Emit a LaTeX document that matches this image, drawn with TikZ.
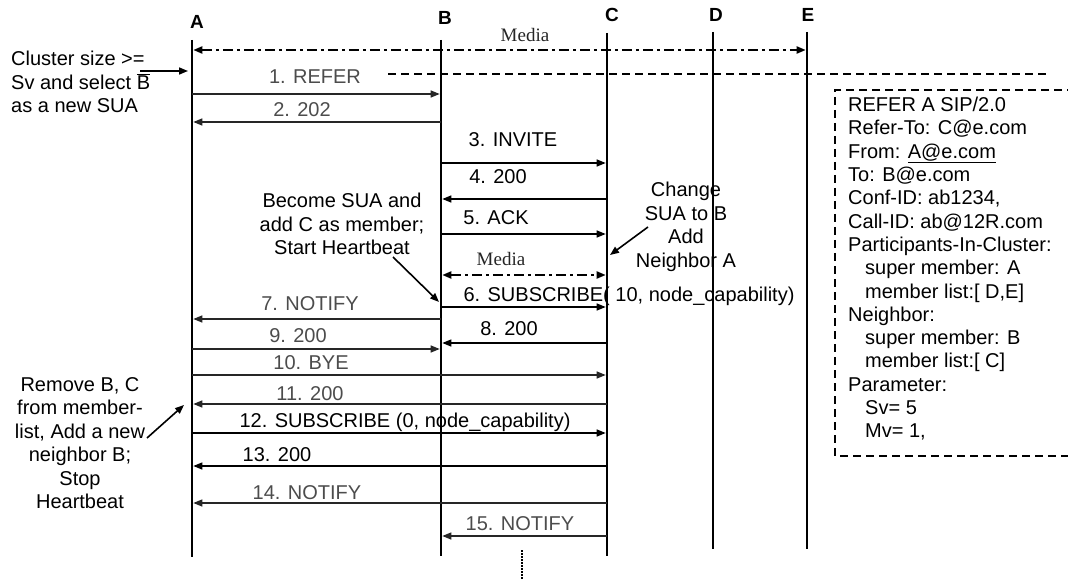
\documentclass[tikz,border=0pt]{standalone}
\usepackage{fontspec}
\setmainfont{Liberation Sans}
\newfontfamily\mediafont{Liberation Serif}
\usetikzlibrary{arrows.meta}
\begin{document}
\begin{tikzpicture}[x=1pt,y=-1pt,
  life/.style={line width=2.6pt},
  msg/.style={line width=1.3pt,-{Triangle[length=9pt,width=7pt]}},
  litemsg/.style={msg,draw=black!85},
  media/.style={line width=2pt,dash pattern=on 10pt off 4pt on 3pt off 4pt,
     {Triangle[length=9pt,width=7pt]}-{Triangle[length=9pt,width=7pt]}},
  dashline/.style={line width=2pt,dash pattern=on 8pt off 5pt},
  boxline/.style={line width=1.8pt,dash pattern=on 8pt off 5pt},
  note/.style={line width=1.6pt,-{Triangle[length=9pt,width=7pt]}},
  txt/.style={inner sep=0pt,text height=14pt,text depth=0pt,font=\fontsize{20}{23.5}\selectfont},
  lite/.style={txt,text=black!70},
  para/.style={inner sep=0pt,font=\fontsize{20}{23.5}\selectfont},
  mediatxt/.style={inner sep=0pt,text height=13pt,text depth=0pt,font=\mediafont\fontsize{19}{19}\selectfont,text=black!85},
  head/.style={inner sep=0pt,text height=13pt,text depth=0pt,font=\fontsize{19}{19}\selectfont\bfseries}]
\useasboundingbox (0,0) rectangle (1068,580);

% lifeline ends
\coordinate (At) at (192,40);  \coordinate (Ab) at (192,557);
\coordinate (Bt) at (441,40);  \coordinate (Bb) at (441,556);
\coordinate (Ct) at (607,33);  \coordinate (Cb) at (607,556);
\coordinate (Dt) at (713,32);  \coordinate (Db) at (713,549);
\coordinate (Et) at (807,32);  \coordinate (Eb) at (807,549);

% heads
\node[head] (A) at (197,22) {A};
\node[head] (B) at (445,18) {B};
\node[head] (C) at (612,15) {C};
\node[head] (D) at (716,15) {D};
\node[head] (E) at (808,15) {E};

% message labels
\node[mediatxt] (m0) at (525,35) {Media};
\node[lite] (t1) at (315,77) {1. REFER};
\node[lite] (t2) at (302,110) {2. 202};
\node[txt] (t3) at (513,140) {3. INVITE};
\node[txt] (t4) at (498,177) {4. 200};
\node[txt] (t5) at (496,218) {5. ACK};
\node[mediatxt] (m1) at (501,259) {Media};
\node[txt] (t6) at (629,294) {6. SUBSCRIBE( 10, node\_capability)};
\node[lite] (t7) at (310,303) {7. NOTIFY};
\node[txt] (t8) at (509,328) {8. 200};
\node[lite] (t9) at (298,335) {9. 200};
\node[lite] (t10) at (311,362) {10. BYE};
\node[lite] (t11) at (310,393) {11. 200};
\node[txt] (t12) at (405,420) {12. SUBSCRIBE (0, node\_capability)};
\node[txt] (t13) at (277,454) {13. 200};
\node[lite] (t14) at (307,492) {14. NOTIFY};
\node[lite] (t15) at (520,523) {15. NOTIFY};

% annotations
\node[para,anchor=north west,align=left] (n1) at (11,51) {Cluster size >=\\Sv and select $\overline{\hbox{B}}$\\as a new SUA};
\node[para,anchor=north,align=center] (n2) at (342,193) {Become SUA and\\add C as member;\\Start Heartbeat};
\node[para,anchor=north,align=center] (n3) at (686,182) {Change\\SUA to B\\Add\\Neighbor A};
\node[para,anchor=north,align=center] (n4) at (80,377) {Remove B, C\\from member-\\list, Add a new\\neighbor B;\\Stop\\Heartbeat};

% SIP message box
\node[inner sep=0pt,anchor=north west,align=left,font=\fontsize{20}{23.3}\selectfont] (sip) at (848,97) {REFER A SIP/2.0\\
Refer-To: C@e.com\\
From: \underline{A@e.com}\\
To: B@e.com\\
Conf-ID: ab1234,\\
Call-ID: ab@12R.com\\
Participants-In-Cluster:\\
\hspace*{17pt}super member: A\\
\hspace*{17pt}member list:[ D,E]\\
Neighbor:\\
\hspace*{17pt}super member: B\\
\hspace*{17pt}member list:[ C]\\
Parameter:\\
\hspace*{17pt}Sv= 5\\
\hspace*{17pt}Mv= 1,};
\coordinate (bx1) at (1075,90); \coordinate (bx2) at (835,90);
\coordinate (bx3) at (835,456); \coordinate (bx4) at (1075,456);
\draw[boxline] (bx1) -- (bx2) -- (bx3) -- (bx4);

% lifelines
\draw[life] (At) -- (Ab);
\draw[life] (Bt) -- (Bb);
\draw[life] (Ct) -- (Cb);
\draw[life] (Dt) -- (Db);
\draw[life] (Et) -- (Eb);

% top media and refer-dashed line
\draw[media,shorten <=1.3pt,shorten >=1.3pt] (At |- 0,50) -- (Et |- 0,50);
\coordinate (dl1) at (388,74); \coordinate (dl2) at (1048,74);
\draw[dashline] (dl1) -- (dl2);

% messages
\draw[litemsg,shorten >=1.3pt] (At |- 0,94) -- (Bt |- 0,94);
\draw[litemsg,shorten >=1.3pt] (Bt |- 0,122) -- (At |- 0,122);
\draw[msg,shorten >=1.3pt] (Bt |- 0,163) -- (Ct |- 0,163);
\draw[msg,shorten >=1.3pt] (Ct |- 0,199) -- (Bt |- 0,199);
\draw[msg,shorten >=1.3pt] (Bt |- 0,234) -- (Ct |- 0,234);
\draw[media,shorten <=1.3pt,shorten >=1.3pt] (Bt |- 0,275) -- (Ct |- 0,275);
\draw[msg,shorten >=1.3pt] (Bt |- 0,307) -- (Ct |- 0,307);
\draw[litemsg,shorten >=1.3pt] (Bt |- 0,319) -- (At |- 0,319);
\draw[msg,shorten >=1.3pt] (Ct |- 0,343) -- (Bt |- 0,343);
\draw[litemsg,shorten >=1.3pt] (At |- 0,349) -- (Bt |- 0,349);
\draw[litemsg,shorten >=1.3pt] (At |- 0,375) -- (Ct |- 0,375);
\draw[litemsg,shorten >=1.3pt] (Ct |- 0,404) -- (At |- 0,404);
\draw[msg,shorten >=1.3pt] (At |- 0,433) -- (Ct |- 0,433);
\draw[msg,shorten >=1.3pt] (Ct |- 0,466) -- (At |- 0,466);
\draw[litemsg,shorten >=1.3pt] (Ct |- 0,503) -- (At |- 0,503);
\draw[litemsg,shorten >=1.3pt] (Ct |- 0,536) -- (Bt |- 0,536);

% annotation arrows
\coordinate (a1s) at (140,71); \coordinate (a1e) at (188,71);
\draw[note] (a1s) -- (a1e);
\coordinate (a2s) at (393,257); \coordinate (a2e) at (439,302);
\draw[note] (a2s) -- (a2e);
\coordinate (a3s) at (648,227); \coordinate (a3e) at (610,255);
\draw[note] (a3s) -- (a3e);
\coordinate (a4s) at (147,438); \coordinate (a4e) at (184,405);
\draw[note] (a4s) -- (a4e);

% continuation
\coordinate (c1) at (522,550); \coordinate (c2) at (522,582);
\draw[line width=1.3pt,dash pattern=on 1.5pt off 1.5pt] (c1) -- (c2);
\end{tikzpicture}
\end{document}
